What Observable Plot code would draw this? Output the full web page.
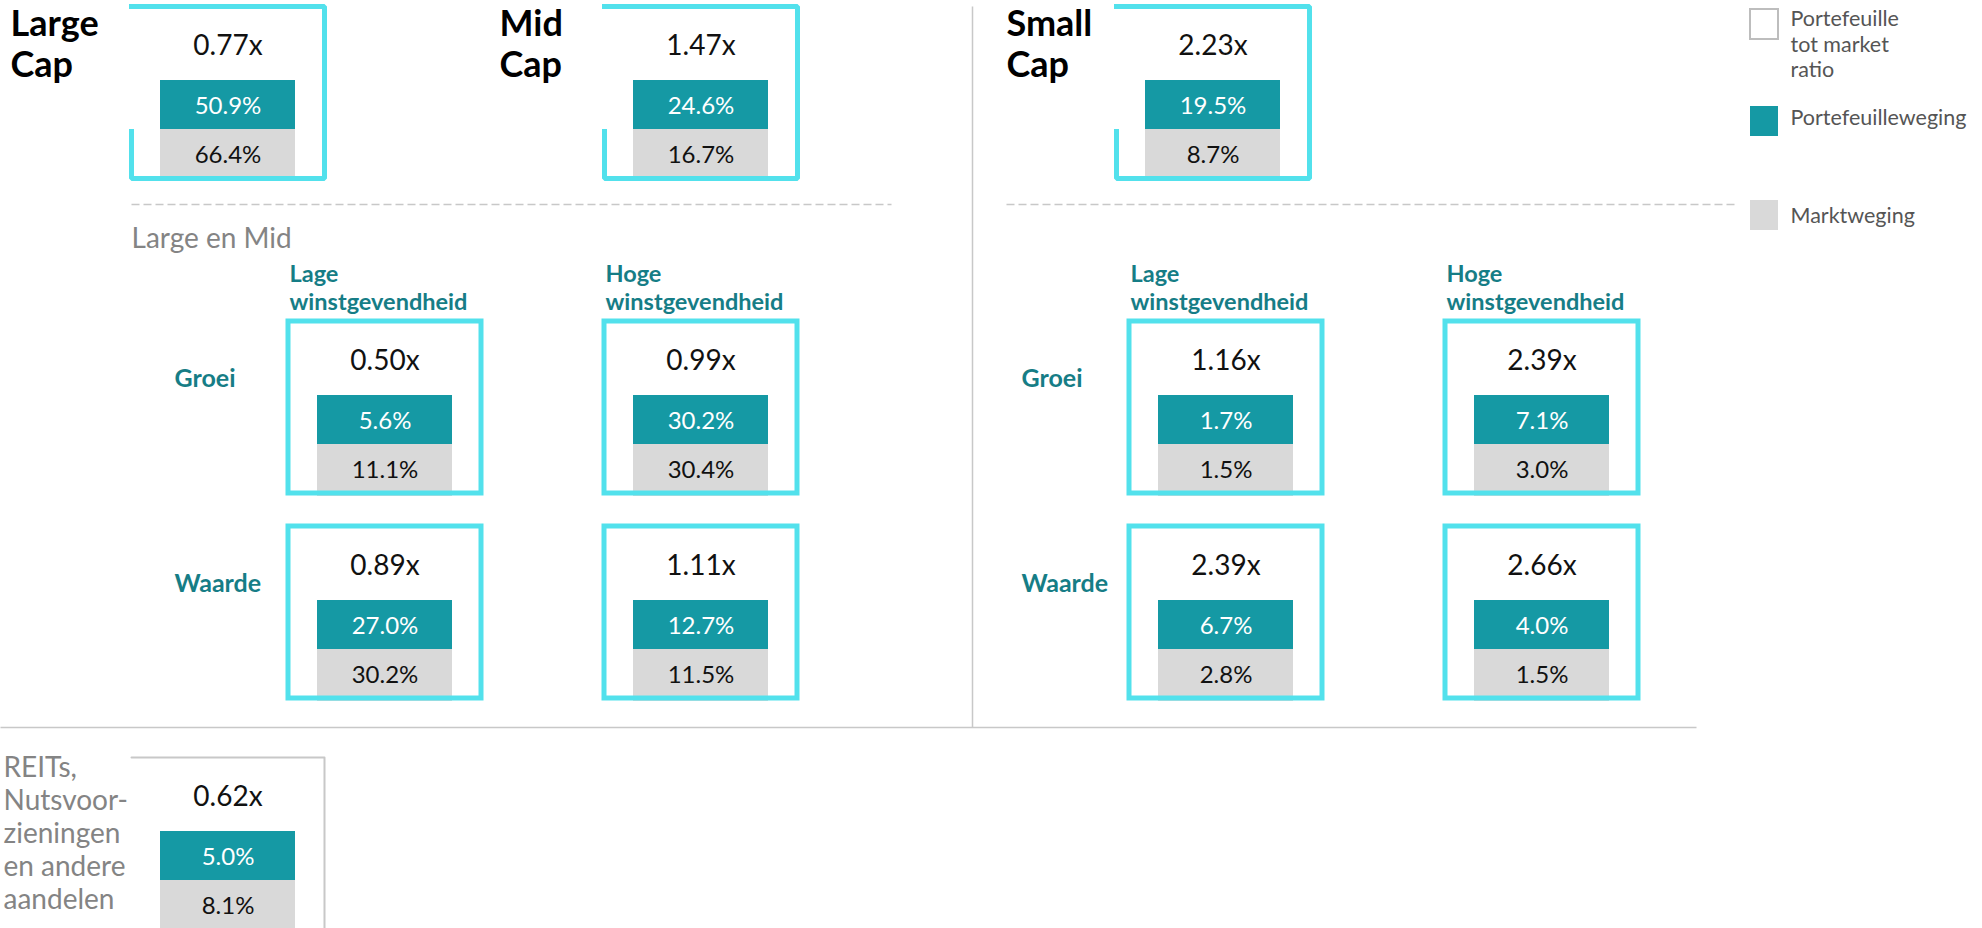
<!DOCTYPE html>
<html><head><meta charset="utf-8">
<script src="https://cdn.jsdelivr.net/npm/d3@7"></script>
<script src="https://cdn.jsdelivr.net/npm/@observablehq/plot@0.6"></script>
<style>html,body{margin:0;padding:0;background:#fff;overflow:hidden;} #chart svg{display:block;}</style>
</head><body><div id="chart"></div>
<script>
// ---------- DATA ----------
const capSegments = ["Large\nCap", "Mid\nCap", "Small\nCap"];
const capRatios = [0.77, 1.47, 2.23];
const capPortfolioWeights = [50.9, 24.6, 19.5];
const capMarketWeights = [66.4, 16.7, 8.7];

const groupTitle = "Large en Mid";
const cellGroups = ["Large en Mid", "Large en Mid", "Large en Mid", "Large en Mid", "Small", "Small", "Small", "Small"];
const cellStyles = ["Groei", "Groei", "Waarde", "Waarde", "Groei", "Groei", "Waarde", "Waarde"];
const cellProfitability = ["Lage", "Hoge", "Lage", "Hoge", "Lage", "Hoge", "Lage", "Hoge"];
const cellRatios = [0.50, 0.99, 0.89, 1.11, 1.16, 2.39, 2.39, 2.66];
const cellPortfolioWeights = [5.6, 30.2, 27.0, 12.7, 1.7, 7.1, 6.7, 4.0];
const cellMarketWeights = [11.1, 30.4, 30.2, 11.5, 1.5, 3.0, 2.8, 1.5];

const styleLabels = ["Groei", "Waarde"];
const profitabilityKeys = ["Lage", "Hoge"];
const profitabilityLabels = ["Lage\nwinstgevendheid", "Hoge\nwinstgevendheid"];

const otherLabel = "REITs,\nNutsvoor-\nzieningen\nen andere\naandelen";
const otherRatio = [0.62];
const otherPortfolioWeight = [5.0];
const otherMarketWeight = [8.1];

const legendLabels = ["Portefeuille\ntot market\nratio", "Portefeuilleweging", "Marktweging"];

// ---------- LAYOUT / STYLE ----------
const W = 1982, H = 928;
const CYAN = "#52e1ec", TEAL = "#1599a4", GRAY = "#d9d9d9", HEAD = "#167d86", MUTED = "#848484", LINE = "#c8c8c8";
const FONT = "Lato, 'Noto Sans', sans-serif";
const BOX_W = 193, BOX_H = 172, BAR_OFF = 29, BAR_W = 135;
const VAL_DY = 40, TEAL_DY = 74, MID_DY = 123, LOW_DY = 171;
const capLabelX = [10, 499, 1006];
const capBoxX = [131, 604, 1116];
const capTop = 6;
const groupColX = {"Large en Mid": [288, 604], "Small": [1129, 1445]};
const groupRowLabelX = {"Large en Mid": 174, "Small": 1021};
const rowTop = {"Groei": 321, "Waarde": 526};
const otherBox = {x0: 131, y0: 757};

const fmtPct = v => d3.format(".1f")(v) + "%";
const fmtRatio = v => d3.format(".2f")(v) + "x";

const capBoxes = capSegments.map((s, i) => ({
  id: "cap" + i, label: s, lx: capLabelX[i], x0: capBoxX[i], y0: capTop,
  ratio: capRatios[i], pw: capPortfolioWeights[i], mw: capMarketWeights[i]
}));
const cellBoxes = cellRatios.map((r, i) => ({
  id: "cell" + i,
  x0: groupColX[cellGroups[i]][profitabilityKeys.indexOf(cellProfitability[i])],
  y0: rowTop[cellStyles[i]],
  ratio: r, pw: cellPortfolioWeights[i], mw: cellMarketWeights[i]
}));
const otherBoxes = otherRatio.map((r, i) => ({
  id: "other" + i, x0: otherBox.x0, y0: otherBox.y0,
  ratio: r, pw: otherPortfolioWeight[i], mw: otherMarketWeight[i]
}));
const allBoxes = [...capBoxes, ...cellBoxes, ...otherBoxes];

// bracket-shaped frames for the cap boxes (open at top-left)
const bracketPts = capBoxes.flatMap(b => [
  {id: b.id, x: b.x0, y: b.y0},
  {id: b.id, x: b.x0 + BOX_W, y: b.y0},
  {id: b.id, x: b.x0 + BOX_W, y: b.y0 + BOX_H},
  {id: b.id, x: b.x0, y: b.y0 + BOX_H},
  {id: b.id, x: b.x0, y: b.y0 + MID_DY + 2}
]);
const otherFramePts = otherBoxes.flatMap(b => [
  {id: b.id, x: b.x0, y: b.y0},
  {id: b.id, x: b.x0 + BOX_W, y: b.y0},
  {id: b.id, x: b.x0 + BOX_W, y: H}
]);

// header labels
const colHeaders = Object.entries(groupColX).flatMap(([g, xs]) =>
  profitabilityLabels.map((t, j) => ({text: t, x: xs[j] + 1, y: rowTop["Groei"] - 34})));
const rowHeaders = Object.entries(groupRowLabelX).flatMap(([g, x]) =>
  styleLabels.map(s => ({text: s, x, y: rowTop[s] + 57})));

const solidLines = [
  {x1: 972, y1: 6, x2: 972, y2: 727},
  {x1: 0, y1: 727, x2: 1696, y2: 727}
];
const dashedLines = [
  {x1: 131, y1: 204, x2: 891, y2: 204},
  {x1: 1006, y1: 204, x2: 1734, y2: 204}
];

const legend = legendLabels.map((t, i) => ({
  text: t,
  fill: ["#ffffff", TEAL, GRAY][i],
  stroke: ["#bdbdbd", "none", "none"][i],
  y0: [9, 106, 200][i],
  ty: [43, 116, 214][i]
}));

const chart = Plot.plot({
  width: W, height: H,
  margin: 0,
  x: {domain: [0, W], range: [0, W], axis: null},
  y: {domain: [0, H], range: [0, H], axis: null},
  style: {fontFamily: FONT, background: "#fff"},
  marks: [
    // separators
    Plot.link(solidLines, {x1: "x1", y1: "y1", x2: "x2", y2: "y2", stroke: LINE, strokeWidth: 1.5}),
    Plot.link(dashedLines, {x1: "x1", y1: "y1", x2: "x2", y2: "y2", stroke: LINE, strokeWidth: 1.5, strokeDasharray: "8,4"}),
    // bars
    Plot.rect(allBoxes, {x1: d => d.x0 + BAR_OFF, x2: d => d.x0 + BAR_OFF + BAR_W, y1: d => d.y0 + TEAL_DY, y2: d => d.y0 + MID_DY, fill: TEAL}),
    Plot.rect(allBoxes, {x1: d => d.x0 + BAR_OFF, x2: d => d.x0 + BAR_OFF + BAR_W, y1: d => d.y0 + MID_DY, y2: d => d.y0 + LOW_DY + 4, fill: GRAY}),
    // frames
    Plot.line(bracketPts, {x: "x", y: "y", z: "id", stroke: CYAN, strokeWidth: 5, strokeLinecap: "square", strokeLinejoin: "miter"}),
    Plot.rect(cellBoxes, {x1: "x0", x2: d => d.x0 + BOX_W, y1: "y0", y2: d => d.y0 + BOX_H, fill: "none", stroke: CYAN, strokeWidth: 5}),
    Plot.line(otherFramePts, {x: "x", y: "y", z: "id", stroke: LINE, strokeWidth: 2}),
    // values
    Plot.text(allBoxes, {x: d => d.x0 + BOX_W / 2, y: d => d.y0 + VAL_DY, text: d => fmtRatio(d.ratio), fontSize: 28, fill: "#111", fontFamily: FONT}),
    Plot.text(allBoxes, {x: d => d.x0 + BAR_OFF + BAR_W / 2, y: d => d.y0 + 100, text: d => fmtPct(d.pw), fontSize: 24, fill: "#fff", fontFamily: FONT}),
    Plot.text(allBoxes, {x: d => d.x0 + BAR_OFF + BAR_W / 2, y: d => d.y0 + 149, text: d => fmtPct(d.mw), fontSize: 24, fill: "#111", fontFamily: FONT}),
    // cap labels
    Plot.text(capBoxes, {x: "lx", y: 43, text: "label", textAnchor: "start", fontSize: 36, fontWeight: "bold", lineHeight: 1.12, fill: "#000", fontFamily: FONT}),
    // group title
    Plot.text([groupTitle], {x: () => 131, y: () => 239, text: d => d, textAnchor: "start", fontSize: 28, fill: MUTED, fontFamily: FONT}),
    // column + row headers
    Plot.text(colHeaders, {x: "x", y: "y", text: "text", textAnchor: "start", fontSize: 23.5, fontWeight: "bold", lineHeight: 1.19, fill: HEAD, fontFamily: FONT}),
    Plot.text(rowHeaders, {x: "x", y: "y", text: "text", textAnchor: "start", fontSize: 25, fontWeight: "bold", fill: HEAD, fontFamily: FONT}),
    // other label
    Plot.text([otherLabel], {x: () => 3, y: () => 832, text: d => d, textAnchor: "start", fontSize: 28, lineHeight: 1.18, fill: MUTED, fontFamily: FONT}),
    // legend
    Plot.rect(legend, {x1: () => 1750, x2: () => 1778, y1: "y0", y2: d => d.y0 + 30, fill: "fill", stroke: "stroke", strokeWidth: 2}),
    Plot.text(legend, {x: () => 1790, y: "ty", text: "text", textAnchor: "start", fontSize: 21.5, lineHeight: 1.17, fill: "#555", fontFamily: FONT})
  ]
});
document.getElementById("chart").appendChild(chart);
</script>
</body></html>
